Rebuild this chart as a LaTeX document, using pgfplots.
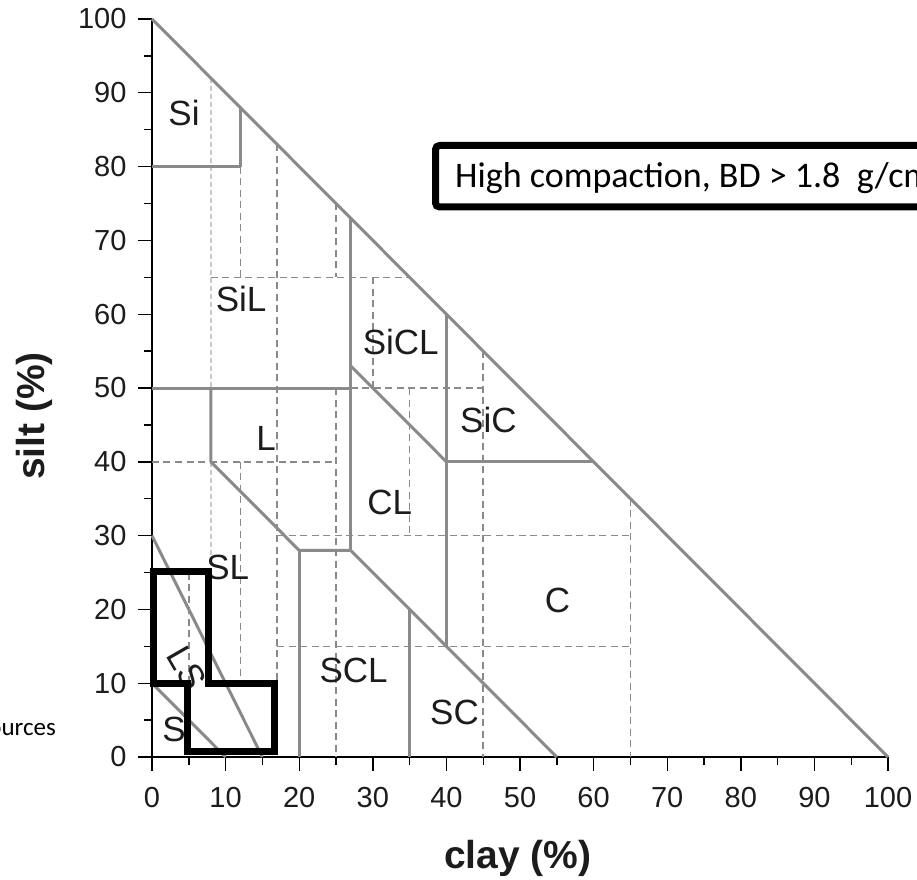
\documentclass[border=0pt]{standalone}
\usepackage{pgfplots}
\pgfplotsset{compat=1.18}
\usepackage{fontspec}
\setmainfont{Liberation Sans}
\newfontfamily\calibri{Carlito}

\definecolor{zone}{RGB}{138,138,138}
\definecolor{zonelight}{RGB}{200,200,200}
\definecolor{ink}{RGB}{28,28,28}

\tikzset{
  classline/.style={zone, line width=3pt, line join=round},
  subline/.style={zone, line width=1.6pt, dash pattern=on 7pt off 4.5pt},
  faintline/.style={zonelight, line width=2.2pt, dash pattern=on 5pt off 3pt},
  lbl/.style={font=\fontsize{35}{35}\selectfont, text=ink, inner sep=0pt},
}

\begin{document}
\begin{tikzpicture}
\useasboundingbox (-152pt,-122pt) rectangle (765pt,757pt);
\begin{axis}[
  at={(0pt,0pt)}, anchor=south west,
  scale only axis, width=736pt, height=738pt,
  xmin=0, xmax=100, ymin=0, ymax=100, enlargelimits=false,
  axis x line=bottom, axis y line=left,
  axis line style={-, black, line width=1.4pt},
  xtick={0,10,...,100}, ytick={0,10,...,100},
  minor tick num=1,
  tick align=outside,
  major tick length=14pt, minor tick length=8pt,
  tick style={black, line width=1.4pt},
  ticklabel style={font=\fontsize{29}{29}\selectfont, text=ink},
  xticklabel style={yshift=-13pt},
  yticklabel style={xshift=-8pt},
  /pgf/number format/assume math mode=true,
  clip=false,
  no marks,
]
% sub-class grid (dashed)
\addplot[subline] coordinates {(12,80) (12,65)};
\addplot[subline] coordinates {(12,40) (12,10)};
\addplot[subline] coordinates {(17,83) (17,10)};
\addplot[subline] coordinates {(25,75) (25,65)};
\addplot[subline] coordinates {(25,50) (25,0)};
\addplot[subline] coordinates {(30,65) (30,50)};
\addplot[subline] coordinates {(35,50) (35,30)};
\addplot[subline] coordinates {(45,55) (45,0)};
\addplot[subline] coordinates {(65,35) (65,0)};
\addplot[subline] coordinates {(5,25) (5,10)};
\addplot[subline] coordinates {(8,65) (35,65)};
\addplot[subline] coordinates {(27,50) (45,50)};
\addplot[subline] coordinates {(0,40) (25,40)};
\addplot[subline] coordinates {(17,30) (65,30)};
\addplot[subline] coordinates {(17,15) (65,15)};
\addplot[faintline] coordinates {(8,92) (8,50)};
\addplot[faintline] coordinates {(8,40) (8,27)};

% texture class boundaries
\addplot[classline] coordinates {(0,100) (100,0)};
\addplot[classline] coordinates {(0,80) (12,80) (12,88)};
\addplot[classline] coordinates {(0,50) (27,50)};
\addplot[classline] coordinates {(27,73) (27,28)};
\addplot[classline] coordinates {(27,53) (40,40)};
\addplot[classline] coordinates {(40,60) (40,15)};
\addplot[classline] coordinates {(40,40) (60,40)};
\addplot[classline] coordinates {(8,50) (8,40) (20,28) (27,28)};
\addplot[classline] coordinates {(20,28) (20,0)};
\addplot[classline] coordinates {(27,28) (55,0)};
\addplot[classline] coordinates {(35,20) (35,0)};
\addplot[classline] coordinates {(0,30) (15,0)};
\addplot[classline] coordinates {(0,10) (10,0)};

% class names
\node[lbl] at (axis cs:4.35,87.2) {Si};
\node[lbl] at (axis cs:12.1,62.0) {SiL};
\node[lbl] at (axis cs:33.8,56.2) {SiCL};
\node[lbl] at (axis cs:45.7,45.7) {SiC};
\node[lbl] at (axis cs:15.5,43.2) {L};
\node[lbl] at (axis cs:32.3,34.5) {CL};
\node[lbl] at (axis cs:10.3,25.7) {SL};
\node[lbl, rotate=-60] at (axis cs:4.7,12.1) {LS};
\node[lbl] at (axis cs:3.0,3.7) {S};
\node[lbl] at (axis cs:27.4,11.7) {SCL};
\node[lbl] at (axis cs:41.1,6.0) {SC};
\node[lbl] at (axis cs:55.1,21.2) {C};

% high-compaction zone outline
\addplot[black, line width=7pt, line join=miter] coordinates {
  (0.2,17) (0.2,25.1) (7.7,25.1) (7.7,10) (16.7,10) (16.7,0.75)
  (4.8,0.75) (4.8,10) (0.2,10) (0.2,17)};

% axis titles
\node[font=\bfseries\fontsize{39}{39}\selectfont, text=ink, anchor=base, inner sep=0pt]
  at (axis cs:49.7,0) [yshift=-111.5pt] {clay (\%)};
\node[font=\bfseries\fontsize{39}{39}\selectfont, text=ink, rotate=90, inner sep=0pt]
  at (axis cs:-16.03,46.2) {silt (\%)};
\end{axis}

\draw[line width=7pt, rounded corners=4pt, fill=white] (283.5pt,611.5pt) rectangle (820pt,550pt);
\node[anchor=base west, inner sep=0pt, font=\calibri\fontsize{36}{36}\selectfont]
  at (303pt,569pt) {High compaction, BD > 1.8~ g/cm\textsuperscript{3}};
\node[anchor=base east, inner sep=0pt, font=\calibri\fontsize{25}{25}\selectfont]
  at (-96pt,22pt) {Sources};
\end{tikzpicture}
\end{document}
